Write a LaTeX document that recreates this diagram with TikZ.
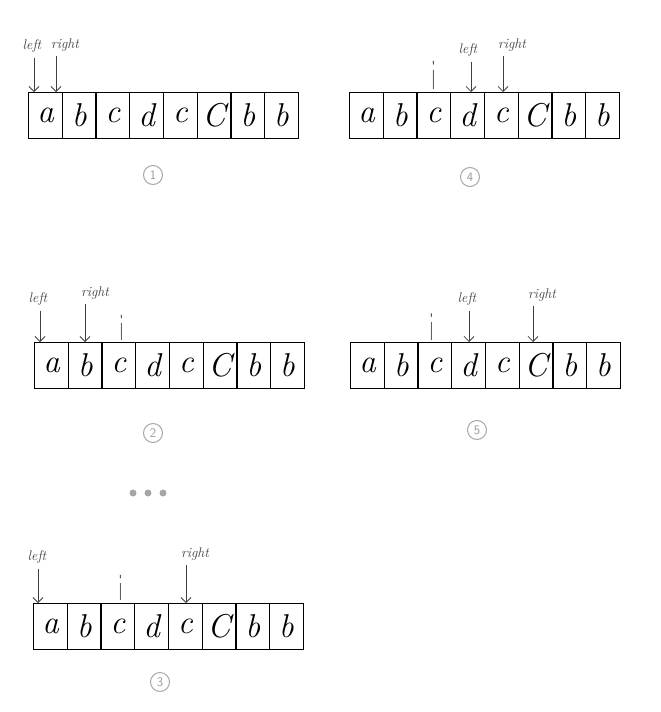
\documentclass[tikz,border=0pt]{standalone}
\usetikzlibrary{arrows.meta}
\begin{document}
\begin{tikzpicture}[x=1pt, y=-1pt, every node/.style={font=\itshape},
    cell/.style={draw, line width=1.3pt, anchor=north west, inner sep=0pt,
        minimum width=33.7pt, minimum height=46pt, font=\fontsize{33}{33}\itshape},
    tag/.style={font=\fontsize{14}{14}\itshape, text=black!75, inner sep=1pt},
    ptr/.style={-{Straight Barb[length=5pt]}, black!75, line width=0.8pt, shorten <=4pt},
    idx/.style={anchor=south, inner sep=0pt, text=black!75,
        font=\sffamily\fontsize{12}{12}\selectfont},
    numc/.style={circle, draw=black!35, line width=1pt, minimum size=19pt,
        inner sep=0pt, text=black!40, font=\sffamily\fontsize{13}{13}\selectfont}]
    \useasboundingbox (0,0) rectangle (661,712);
    % the five arrays
    \foreach \id/\px/\py in {1/28/92, 4/349/92, 2/34/342, 5/350/342, 3/33/603} {
        \foreach \ch [count=\k] in {a,b,c,d,c,C,b,b}
            \node[cell] (p\id c\k) at (\px+33.7*\k-33.7, \py) {\ch};
    }
    % left / right pointers
    \foreach \nm/\txt/\lx/\ly/\ax/\ay in {
            pal/left/32/46/34/92, par/right/65/45/56/92,
            qal/left/468/50/471/92, qar/right/512/45/503/92,
            ral/left/38/299/40/342, rar/right/95/293/85/342,
            sal/left/467/299/469/342, sar/right/542/295/533/342,
            tal/left/37/557/38/603, tar/right/195/554/186/603} {
        \node[tag] (\nm) at (\lx,\ly) {\txt};
        \coordinate (\nm t) at (\ax,\ay);
        \draw[ptr] (\nm.south -| \nm t) -- (\nm t);
    }
    % the index i
    \foreach \nm/\ix/\iy/\s in {qi/434/90/3.6, ri/122/341/3.2, si/432/341/3.4, ti/121/601/3.2}
        \node[idx] (\nm) at (\ix,\iy) {\scalebox{1}[\s]{i}};
    % step numbers
    \node[numc] (n1) at (153,175) {1};
    \node[numc] (n4) at (470,177) {4};
    \node[numc] (n2) at (153,433) {2};
    \node[numc] (n5) at (477,430) {5};
    \node[numc] (n3) at (160,682) {3};
    \foreach \dx in {133,148,163}
        \fill[black!35] (\dx,493) circle (3.5);
\end{tikzpicture}
\end{document}
